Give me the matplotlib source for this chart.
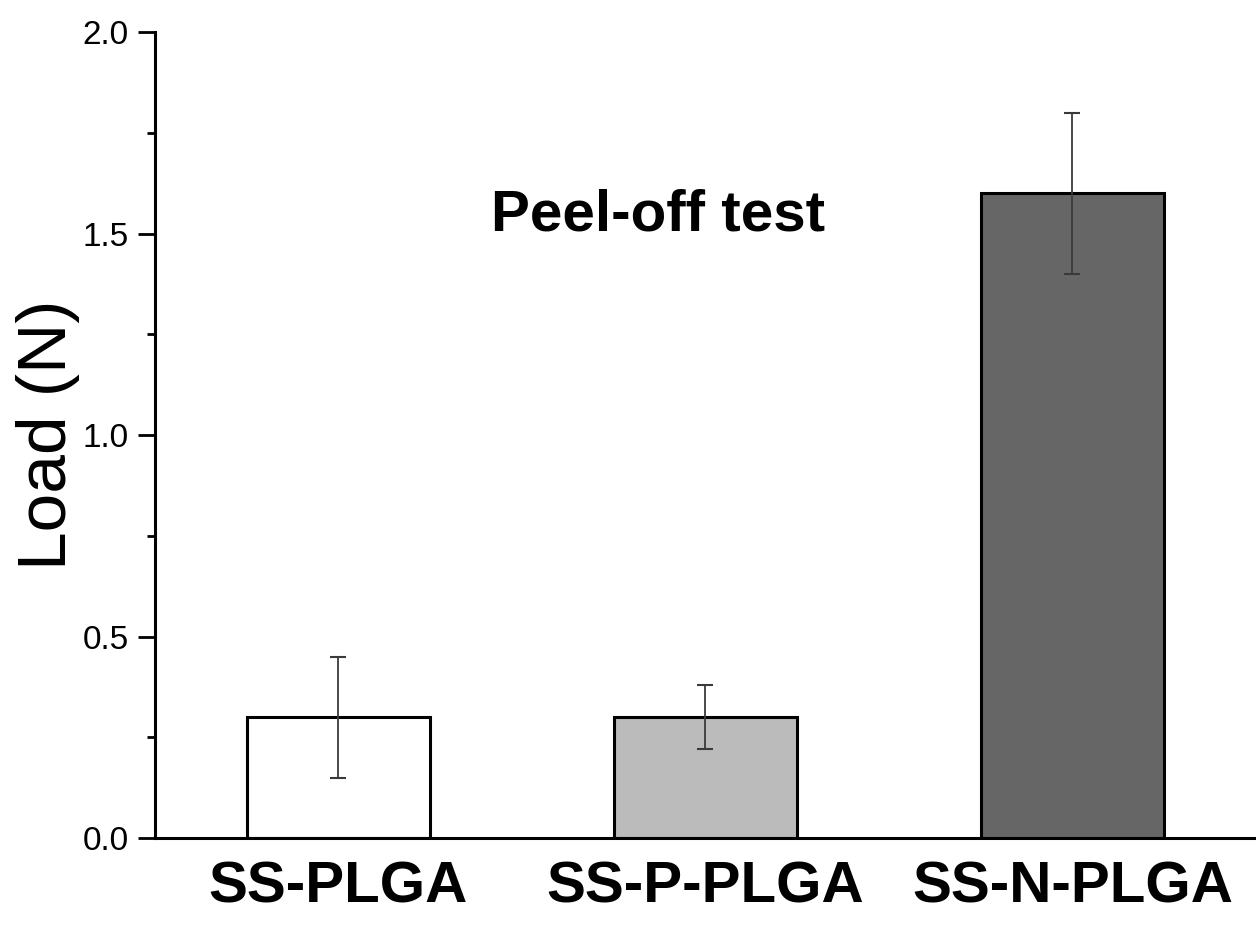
import matplotlib
matplotlib.use('Agg')
import matplotlib.pyplot as plt
from matplotlib.ticker import MultipleLocator

samples = ['SS-PLGA', 'SS-P-PLGA', 'SS-N-PLGA']
load = [0.30, 0.30, 1.60]
load_err = [0.15, 0.08, 0.20]
bar_colors = ['#ffffff', '#bbbbbb', '#666666']

plt.rcParams['font.family'] = ['Liberation Sans', 'DejaVu Sans']

fig = plt.figure(figsize=(12.56, 9.52), dpi=100)
ax = fig.add_axes([0.1234, 0.1197, 0.8766, 0.8467])

x = range(len(samples))
ax.bar(x, load, width=0.5, color=bar_colors, edgecolor='black', linewidth=2.2, zorder=2)
ax.errorbar(x, load, yerr=load_err, fmt='none', ecolor='#3a3a3a',
            elinewidth=1.3, capsize=6, capthick=1.5, zorder=3)

ax.set_xlim(-0.5, 2.5)
ax.set_ylim(0, 2.0)
ax.yaxis.set_major_locator(MultipleLocator(0.5))
ax.yaxis.set_minor_locator(MultipleLocator(0.25))
ax.set_yticklabels([f'{v:.1f}' for v in ax.get_yticks()])

ax.set_xticks(list(x))
ax.set_xticklabels(samples, fontsize=42, fontweight='bold')
ax.tick_params(axis='x', length=0, pad=16)
ax.tick_params(axis='y', which='major', length=12, width=2, labelsize=24, pad=7)
ax.tick_params(axis='y', which='minor', length=6, width=2)

for side in ['top', 'right']:
    ax.spines[side].set_visible(False)
for side in ['left', 'bottom']:
    ax.spines[side].set_linewidth(2.2)

ax.set_ylabel('Load (N)', fontsize=50, labelpad=2)
ax.text(0.87, 1.545, 'Peel-off test', fontsize=42, fontweight='bold',
        ha='center', va='center')

fig.savefig('out.png', dpi=100)
